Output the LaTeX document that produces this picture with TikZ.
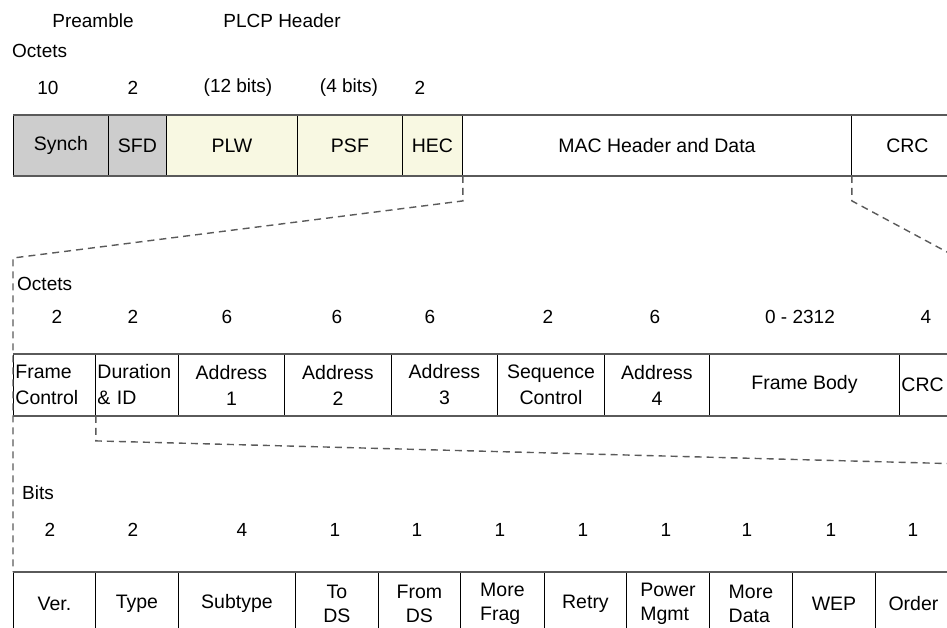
\documentclass[tikz,border=0pt]{standalone}
\usepackage{fontspec}
\setmainfont{Liberation Sans}
\usepackage{xcolor}
\definecolor{preamblegray}{RGB}{205,205,205}
\definecolor{plcpcream}{RGB}{248,248,226}
\definecolor{edgegray}{RGB}{90,90,90}

\tikzset{
  field/.style={draw=black, line width=0.9pt, inner sep=0pt, anchor=north west, align=center,
    font=\fontsize{19.5}{25}\selectfont},
  phyfield/.style={field, minimum height=60pt},
  macfield/.style={field, minimum height=61pt, font=\fontsize{19.5}{26}\selectfont},
  bitfield/.style={field, minimum height=62pt, font=\fontsize{19.5}{24}\selectfont},
  leftfield/.style={align=left},
  rowline/.style={draw=edgegray, line width=2pt},
  zoomline/.style={draw=edgegray, line width=1.4pt, dash pattern=on 7pt off 5pt},
  caption/.style={inner sep=0pt, font=\fontsize{19}{22}\selectfont}
}

\begin{document}
\begin{tikzpicture}[x=1pt, y=-1pt]
  \useasboundingbox (0,0) rectangle (947,628);
  \clip (0,0) rectangle (947,628);

  % PLCP frame
  \node[caption] (preamble) at (93,21) {Preamble};
  \node[caption] (plcp) at (282,21) {PLCP Header};
  \node[caption, anchor=west] (phyoctets) at (12,51) {Octets};
  \foreach \n/\x [count=\i] in {10/48, 2/133, (12 bits)/238, (4 bits)/349, 2/420}
    \node[caption] (phylen\i) at (\x,88) {\n};

  \node[phyfield, fill=preamblegray, minimum width=95pt] (synch) at (13,115) {Synch};
  \node[phyfield, fill=preamblegray, minimum width=58pt] (sfd) at (108,115) {SFD};
  \node[phyfield, fill=plcpcream, minimum width=131pt] (plw) at (166,115) {PLW};
  \node[phyfield, fill=plcpcream, minimum width=105pt] (psf) at (297,115) {PSF};
  \node[phyfield, fill=plcpcream, minimum width=60pt] (hec) at (402,115) {HEC};
  \node[phyfield, minimum width=389pt] (macdata) at (462,115) {MAC Header and Data};
  \node[phyfield, minimum width=112pt] (phycrc) at (851,115) {CRC};
  \draw[rowline] (synch.north west) -- (phycrc.north east);
  \draw[rowline] (synch.south west) -- (phycrc.south east);

  % MAC frame
  \node[caption, anchor=west] (macoctets) at (17,284) {Octets};
  \foreach \n/\x [count=\i] in {2/57, 2/133, 6/227, 6/337, 6/430, 2/548, 6/655, 0 - 2312/800, 4/926}
    \node[caption] (maclen\i) at (\x,317) {\n};

  \node[macfield, leftfield, minimum width=82pt, text width=78pt] (fc) at (13,354) {Frame\\Control};
  \node[macfield, leftfield, minimum width=83pt, text width=79pt] (dur) at (95,354) {Duration\\\& ID};
  \node[macfield, minimum width=106pt] (addr1) at (178,354) {Address\\1};
  \node[macfield, minimum width=107pt] (addr2) at (284,354) {Address\\2};
  \node[macfield, minimum width=106pt] (addr3) at (391,354) {Address\\3};
  \node[macfield, minimum width=107pt] (seqctl) at (497,354) {Sequence\\Control};
  \node[macfield, minimum width=105pt] (addr4) at (604,354) {Address\\4};
  \node[macfield, minimum width=190pt] (body) at (709,354) {Frame Body};
  \node[macfield, leftfield, minimum width=56pt, text width=52pt] (maccrc) at (899,354) {CRC};
  \draw[rowline] (fc.north west) -- (maccrc.north east);
  \draw[rowline] (fc.south west) -- (maccrc.south east);

  % Frame Control bits
  \node[caption, anchor=west] (bits) at (22,493) {Bits};
  \foreach \n/\x [count=\i] in {2/50, 2/133, 4/242, 1/335, 1/417, 1/500, 1/583, 1/666, 1/747, 1/831, 1/913}
    \node[caption] (bitlen\i) at (\x,530) {\n};

  \node[bitfield, minimum width=82pt] (ver) at (13,572) {Ver.};
  \node[bitfield, minimum width=83pt] (type) at (95,572) {Type};
  \node[bitfield, minimum width=117pt] (subtype) at (178,572) {Subtype};
  \node[bitfield, minimum width=83pt] (tods) at (295,572) {To\\DS};
  \node[bitfield, minimum width=82pt] (fromds) at (378,572) {From\\DS};
  \node[bitfield, leftfield, minimum width=84pt] (morefrag) at (460,572) {More\\Frag};
  \node[bitfield, minimum width=82pt] (retry) at (544,572) {Retry};
  \node[bitfield, leftfield, minimum width=83pt] (pwrmgmt) at (626,572) {Power\\Mgmt};
  \node[bitfield, leftfield, minimum width=83pt] (moredata) at (709,572) {More\\Data};
  \node[bitfield, minimum width=83pt] (wep) at (792,572) {WEP};
  \node[bitfield, minimum width=76pt] (order) at (875,572) {Order};
  \draw[rowline] (ver.north west) -- (order.north east);

  % zoom lines
  \coordinate (macleft) at (13,258);
  \coordinate (macright) at (1040,302);
  \coordinate (fcright) at (1040,466);
  \draw[zoomline] (hec.south east) -- ++(0,25) -- (macleft) -- (ver.north west);
  \draw[zoomline] (macdata.south east) -- ++(0,25) -- (macright);
  \draw[zoomline] (fc.south east) -- ++(0,25) -- (fcright);
\end{tikzpicture}
\end{document}
